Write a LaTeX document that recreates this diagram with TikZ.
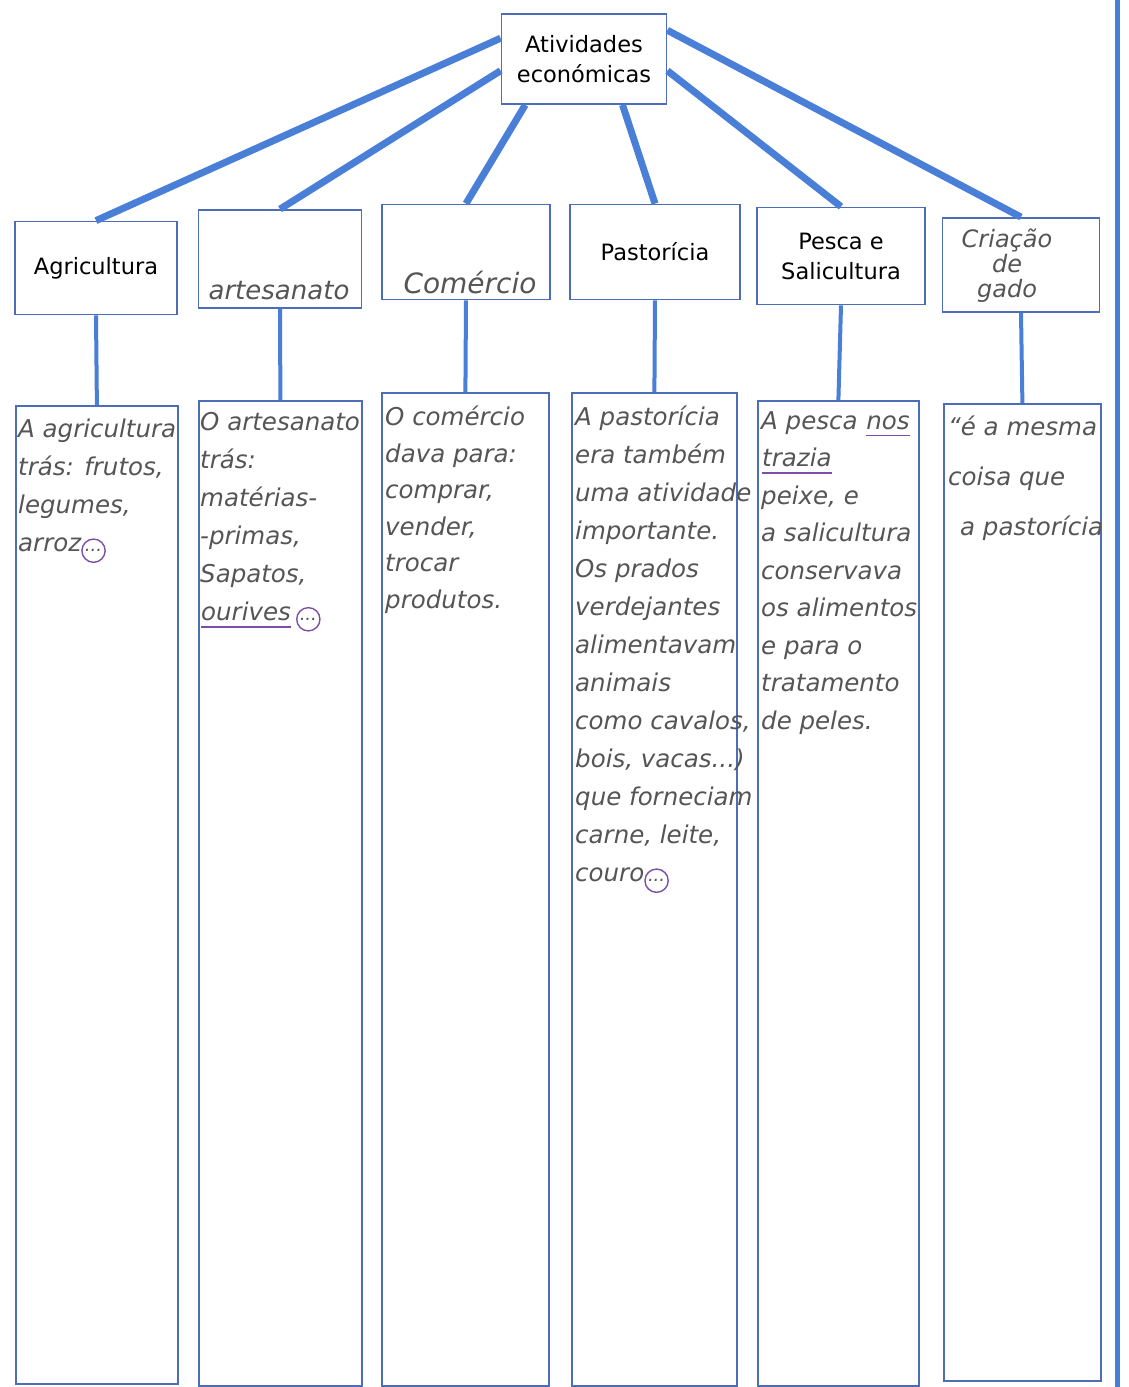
\documentclass[tikz,border=0pt]{standalone}
\usepackage{fontspec}
\setmainfont{DejaVu Sans}
\usepackage{xcolor}
\usetikzlibrary{calc}

\definecolor{linkblue}{HTML}{4A7FD8}
\definecolor{boxblue}{HTML}{4E6DB8}
\definecolor{pencil}{HTML}{555555}
\definecolor{pen}{HTML}{7B4FA8}

\newcommand{\hand}{\fontsize{24.5}{38}\selectfont\itshape\color{pencil}}
\newcommand{\handlab}{\fontsize{26}{26}\selectfont\itshape\color{pencil}}
\newcommand{\etc}{\tikz[baseline=(e.base)]\node[draw=pen,circle,line width=1.4pt,inner sep=2.5pt] (e) {\fontsize{18}{18}\selectfont...};}
\newcommand{\penline}[1]{\tikz[baseline=(u.base)]{\node[inner sep=0pt] (u) {#1};
  \draw[pen,line width=1.6pt] ([yshift=-6pt]u.south west) -- ([yshift=-6pt]u.south east);}}

\begin{document}
\begin{tikzpicture}[x=1pt,y=-1pt,
  every node/.style={inner sep=0pt},
  link/.style={draw=linkblue,line width=7pt},
  drop/.style={draw=linkblue,line width=4pt},
  kindbox/.style={draw=boxblue,line width=1.8pt,fill=white,align=center,
    font=\fontsize{22.5}{30}\selectfont},
  notebox/.style={draw=boxblue,line width=1.8pt,anchor=north west},
  handtext/.style={anchor=north west,align=left,font=\hand},
  handlabel/.style={align=center,font=\handlab}]
\useasboundingbox[fill=white] (0,0) rectangle (1129,1387);
% page margin
\draw[linkblue,line width=5pt] (1117,0) -- (1117,1387);
%
\node[kindbox,minimum width=165pt,minimum height=90pt] (top) at (584,59) {Atividades\\económicas};
%
\node[kindbox,minimum width=162pt,minimum height=93pt] (agri) at (96,268) {Agricultura};
\node[kindbox,minimum width=163pt,minimum height=98pt] (arte) at (280,259) {};
\node[kindbox,minimum width=168pt,minimum height=95pt] (come) at (466,252) {};
\node[kindbox,minimum width=170pt,minimum height=95pt] (past) at (655,252) {Pastorícia};
\node[kindbox,minimum width=168pt,minimum height=97pt] (pesc) at (841,256) {Pesca e\\Salicultura};
\node[kindbox,minimum width=157pt,minimum height=94pt] (cria) at (1021,265) {};
%
\node[handlabel] (artename) at (279,291) {artesanato};
\node[handlabel,font=\fontsize{28}{28}\selectfont\itshape\color{pencil}] (comename) at (470,282) {Comércio};
\node[handlabel,font=\fontsize{24}{25}\selectfont\itshape\color{pencil}] (crianame) at (1007,266) {Criação\\de\\gado};
%
\node[notebox,minimum width=162pt,minimum height=978pt] (agrinote) at (15,405) {};
\node[notebox,minimum width=163pt,minimum height=985pt] (artenote) at (198,400) {};
\node[notebox,minimum width=167pt,minimum height=993pt] (comenote) at (381,392) {};
\node[notebox,minimum width=165pt,minimum height=993pt] (pastnote) at (571,392) {};
\node[notebox,minimum width=161pt,minimum height=985pt] (pescnote) at (757,400) {};
\node[notebox,minimum width=157pt,minimum height=977pt] (crianote) at (943,403) {};
%
\node[handtext] (agritext) at (18,419) {A agricultura\\trás: frutos,\\legumes,\\arroz\etc};
\node[handtext] (artetext) at (200,412) {O artesanato\\trás:\\matérias-\\-primas,\\Sapatos,\\\penline{ourives}\,\etc};
\node[handtext,font=\fontsize{24.5}{36.5}\selectfont\itshape\color{pencil}] (cometext) at (385,406) {O comércio\\dava para:\\comprar,\\vender,\\trocar\\produtos.};
\node[handtext] (pasttext) at (575,406) {A pastorícia\\era também\\uma atividade\\importante.\\Os prados\\verdejantes\\alimentavam\\animais\\como cavalos,\\bois, vacas...)\\que forneciam\\carne, leite,\\couro\etc};
\node[handtext,font=\fontsize{24.5}{37.5}\selectfont\itshape\color{pencil}] (pesctext) at (761,411) {A pesca \penline{nos}\\\penline{trazia}\\peixe, e\\a salicultura\\conservava\\os alimentos\\e para o\\tratamento\\de peles.};
\node[handtext,font=\fontsize{24.5}{50}\selectfont\itshape\color{pencil}] (criatext) at (948,416) {“é a mesma\\coisa que\\\hspace*{12pt}a pastorícia};
%
\draw[link] (top.166) -- (agri.north);
\draw[link] (top.188) -- (arte.north);
\draw[link] (top.218) -- (come.north);
\draw[link] (top.310) -- (past.north);
\draw[link] (top.352) -- (pesc.north);
\draw[link] (top.19) -- (cria.north);
%
\draw[drop] (agri.south) -- (agrinote.north);
\draw[drop] (arte.south) -- (artenote.north);
\draw[drop] (come.south) -- (comenote.north);
\draw[drop] (past.south) -- (pastnote.north);
\draw[drop] (pesc.south) -- (pescnote.north);
\draw[drop] (cria.south) -- (crianote.north);
\end{tikzpicture}
\end{document}
